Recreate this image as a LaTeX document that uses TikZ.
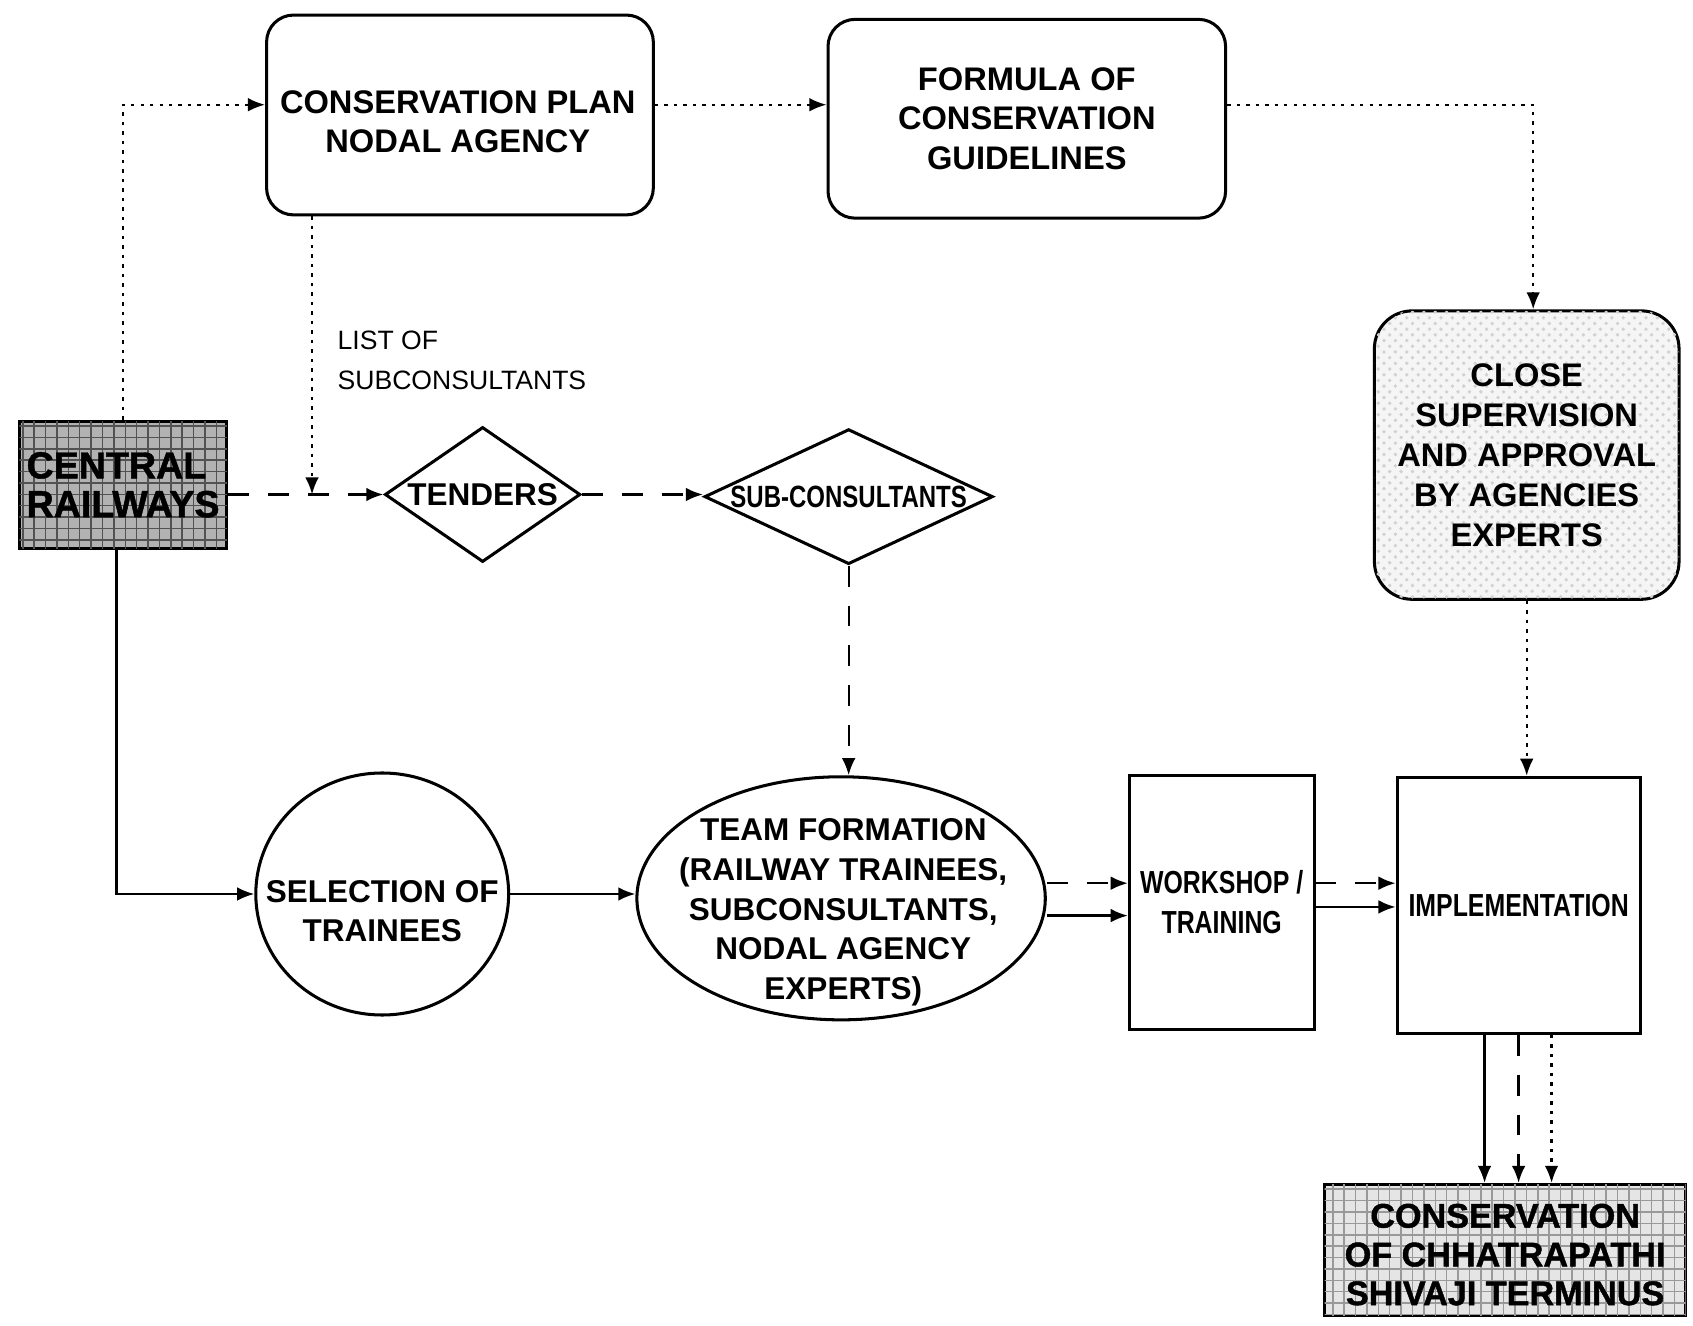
\documentclass[tikz,border=0pt]{standalone}
\usepackage{fontspec}
\setmainfont{Liberation Sans}
\newfontfamily\heavyfont[FakeBold=1.3]{Liberation Sans Bold}
\newfontfamily\narrowfont[FakeStretch=0.78]{Liberation Sans Bold}
\usetikzlibrary{shapes.geometric,arrows.meta,patterns}

\tikzset{
  lbl/.style={font=\fontsize{8.6}{10.3}\selectfont\bfseries, align=center},
  rbox/.style={draw, line width=0.8pt, rounded corners=0.25cm, inner sep=0pt, lbl},
  sqbox/.style={draw, line width=0.8pt, inner sep=0pt},
  dia/.style={draw, diamond, line width=0.8pt, inner sep=0pt},
  oval/.style={draw, ellipse, line width=0.8pt, inner sep=0pt},
  darkmesh/.style={fill=black!30, postaction={pattern=grid, pattern color=black!68}},
  lightmesh/.style={fill=black!10, postaction={pattern=grid, pattern color=black!40}},
  palemesh/.style={fill=black!4, postaction={pattern=crosshatch dots, pattern color=black!18}},
  link/.style={line width=0.6pt, -{Latex[length=4.5pt,width=3.6pt]}},
  dotlink/.style={link, dash pattern=on 0.9pt off 1.6pt},
  dashlink/.style={link, dash pattern=on 5.5pt off 5pt}
}

\begin{document}
\begin{tikzpicture}[x=0.01cm, y=-0.01cm]
\useasboundingbox (0,0) rectangle (1568,1228);

% upper row
\node[rbox, minimum width=3.58cm, minimum height=1.85cm] (plan) at (426,106.5) {};
\node[lbl] (plantxt) at (424,113) {CONSERVATION PLAN\\NODAL AGENCY};
\node[rbox, minimum width=3.68cm, minimum height=1.84cm] (formula) at (951,110)
  {FORMULA OF\\CONSERVATION\\GUIDELINES};
\node[rbox, palemesh, rounded corners=0.35cm, minimum width=2.82cm, minimum height=2.67cm,
      font=\fontsize{8.6}{10.5}\selectfont\bfseries] (close) at (1414,421.5)
  {CLOSE\\SUPERVISION\\AND APPROVAL\\BY AGENCIES\\EXPERTS};

% middle row
\node[sqbox, darkmesh, minimum width=1.92cm, minimum height=1.18cm, align=left,
      font=\fontsize{9.9}{10.2}\selectfont\heavyfont] (cr) at (114,449)
  {CENTRAL\\RAILWAYS};
\node[dia, aspect=1.45, minimum width=1.81cm, minimum height=1.25cm,
      font=\fontsize{8.3}{10}\selectfont\bfseries] (tenders) at (447,458) {TENDERS};
\node[dia, aspect=2.14, minimum width=2.67cm, minimum height=1.25cm,
      font=\fontsize{8.1}{9}\selectfont\narrowfont] (sub) at (786,460) {SUB-CONSULTANTS};
\node[anchor=west, align=left, inner sep=0pt, font=\fontsize{7}{10.5}\selectfont] (listlbl)
  at (312,333.5) {LIST OF\\SUBCONSULTANTS};

% lower row
\node[oval, minimum width=2.34cm, minimum height=2.24cm] (sel) at (354,828) {};
\node[lbl, font=\fontsize{8.3}{10.2}\selectfont\bfseries] (seltxt) at (354,844)
  {SELECTION OF\\TRAINEES};
\node[oval, minimum width=3.78cm, minimum height=2.25cm] (team) at (779,832) {};
\node[lbl, font=\fontsize{8.3}{10.5}\selectfont\bfseries] (teamtxt) at (781,845)
  {TEAM FORMATION\\(RAILWAY TRAINEES,\\SUBCONSULTANTS,\\NODAL AGENCY\\EXPERTS)};
\node[sqbox, minimum width=1.71cm, minimum height=2.35cm, align=center,
      font=\fontsize{8.4}{10.4}\selectfont\narrowfont] (ws) at (1131.5,835.5)
  {WORKSHOP /\\TRAINING};
\node[sqbox, minimum width=2.25cm, minimum height=2.37cm,
      font=\fontsize{8.4}{10}\selectfont\narrowfont] (impl) at (1406.5,838.5)
  {IMPLEMENTATION};
\node[sqbox, lightmesh, minimum width=3.34cm, minimum height=1.21cm] (cst) at (1394,1157.5) {};
\node[align=center, inner sep=0pt, font=\fontsize{9}{10.2}\selectfont\heavyfont] (csttxt)
  at (1394,1162) {CONSERVATION\\OF CHHATRAPATHI\\SHIVAJI TERMINUS};

% guide levels for the connectors
\coordinate (toprow) at (0,97);
\coordinate (listx) at (289,0);
\coordinate (dashrow) at (0,458);
\coordinate (turnx) at (1420,0);
\coordinate (upper) at (0,818);
\coordinate (lowerA) at (0,848);
\coordinate (lowerB) at (0,840);

% dotted connectors
\draw[dotlink] (cr.north) |- (plan.west |- toprow);
\draw[dotlink] (plan.east |- toprow) -- (formula.west |- toprow);
\draw[dotlink] (formula.east |- toprow) -| (turnx |- close.north);
\draw[dotlink] (plan.south -| listx) -- (listx |- dashrow);
\draw[dotlink] (close.south) -- (close.south |- impl.north);

% dashed connectors
\draw[dashlink] (cr.east |- dashrow) -- (tenders.west);
\draw[dashlink] (tenders.east) -- (tenders.east -| sub.west);
\draw[dashlink] (sub.south) -- (sub.south |- team.north);
\draw[dashlink] (team.east |- upper) -- (ws.west |- upper);
\draw[dashlink] (ws.east |- upper) -- (impl.west |- upper);

% solid connectors
\draw[link] ([xshift=-0.06cm]cr.south) |- (sel.west);
\draw[link] (sel.east) -- (sel.east -| team.west);
\draw[link] (team.east |- lowerA) -- (ws.west |- lowerA);
\draw[link] (ws.east |- lowerB) -- (impl.west |- lowerB);

% three lines down to the terminus
\draw[link] ([xshift=-0.315cm]impl.south) -- ([xshift=-0.315cm]impl.south |- cst.north);
\draw[dashlink] (impl.south) -- (impl.south |- cst.north);
\draw[dotlink] ([xshift=0.305cm]impl.south) -- ([xshift=0.305cm]impl.south |- cst.north);
\end{tikzpicture}
\end{document}
